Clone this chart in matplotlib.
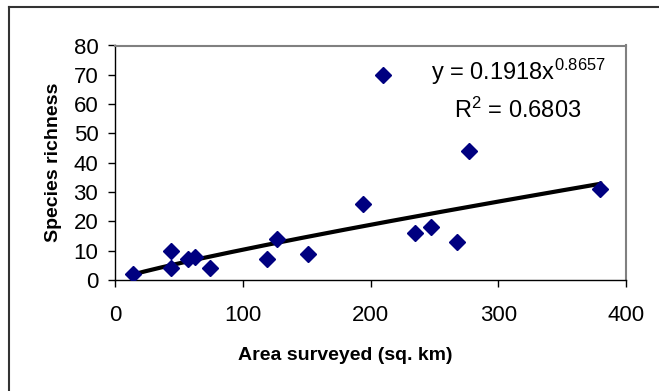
import numpy as np
import matplotlib.pyplot as plt
from matplotlib.lines import Line2D

plt.rcParams['font.family'] = ['Liberation Sans', 'DejaVu Sans']
plt.rcParams['mathtext.default'] = 'regular'

# area surveyed (sq. km) and species richness per site
area = [14, 44, 44, 57, 63, 74, 119, 127, 151, 194, 210, 235, 247, 268, 277, 380]
richness = [2, 10, 4, 7, 8, 4, 7, 14, 9, 26, 70, 16, 18, 13, 44, 31]

# power trendline as reported on the chart
fit_a = 0.1918
fit_b = 0.8657
fit_r2 = 0.6803

xticks = [0, 100, 200, 300, 400]
yticks = [0, 10, 20, 30, 40, 50, 60, 70, 80]

fig = plt.figure(figsize=(6.59, 3.91), dpi=100)
ax = fig.add_axes([115/659, 1 - 280/391, (626 - 115)/659, (280 - 45.5)/391])

xs = np.linspace(min(area), max(area), 200)
ax.plot(xs, fit_a * xs ** fit_b, color='black', lw=3, zorder=2)
ax.plot(area, richness, 'D', color='#000080', ms=8.5, mec='#000080', zorder=3)

ax.set_xlim(0, 400)
ax.set_ylim(0, 80)
ax.set_xticks(xticks)
ax.set_yticks(yticks)
ax.tick_params(axis='both', labelsize=16, length=5, width=1, direction='out')
ax.tick_params(axis='x', pad=13)
ax.tick_params(axis='y', pad=7)

for s in ['top', 'right']:
    ax.spines[s].set_color('#808080')
    ax.spines[s].set_linewidth(1.5)
for s in ['left', 'bottom']:
    ax.spines[s].set_color('black')
    ax.spines[s].set_linewidth(1)

ax.set_xlabel('Area surveyed (sq. km)', fontsize=14, fontweight='bold')
ax.xaxis.set_label_coords((345 - 115) / 511, -67 / 234.5)
ax.set_ylabel('Species richness', fontsize=14, fontweight='bold', labelpad=8)

fig.text(518/659, 1 - 72/391, 'y = %.4fx$^{%.4f}$' % (fit_a, fit_b),
         fontsize=17, ha='center', va='center')
fig.text(518/659, 1 - 110/391, 'R$^2$ = %.4f' % fit_r2,
         fontsize=17, ha='center', va='center')

# outer chart frame (only left and top edges visible)
fig.add_artist(Line2D([8.5/659, 8.5/659], [0, 1 - 6.5/391], color='#333333', lw=1.5))
fig.add_artist(Line2D([8.5/659, 1], [1 - 6.5/391, 1 - 6.5/391], color='#333333', lw=1.5))

fig.savefig('out.png', dpi=100)
